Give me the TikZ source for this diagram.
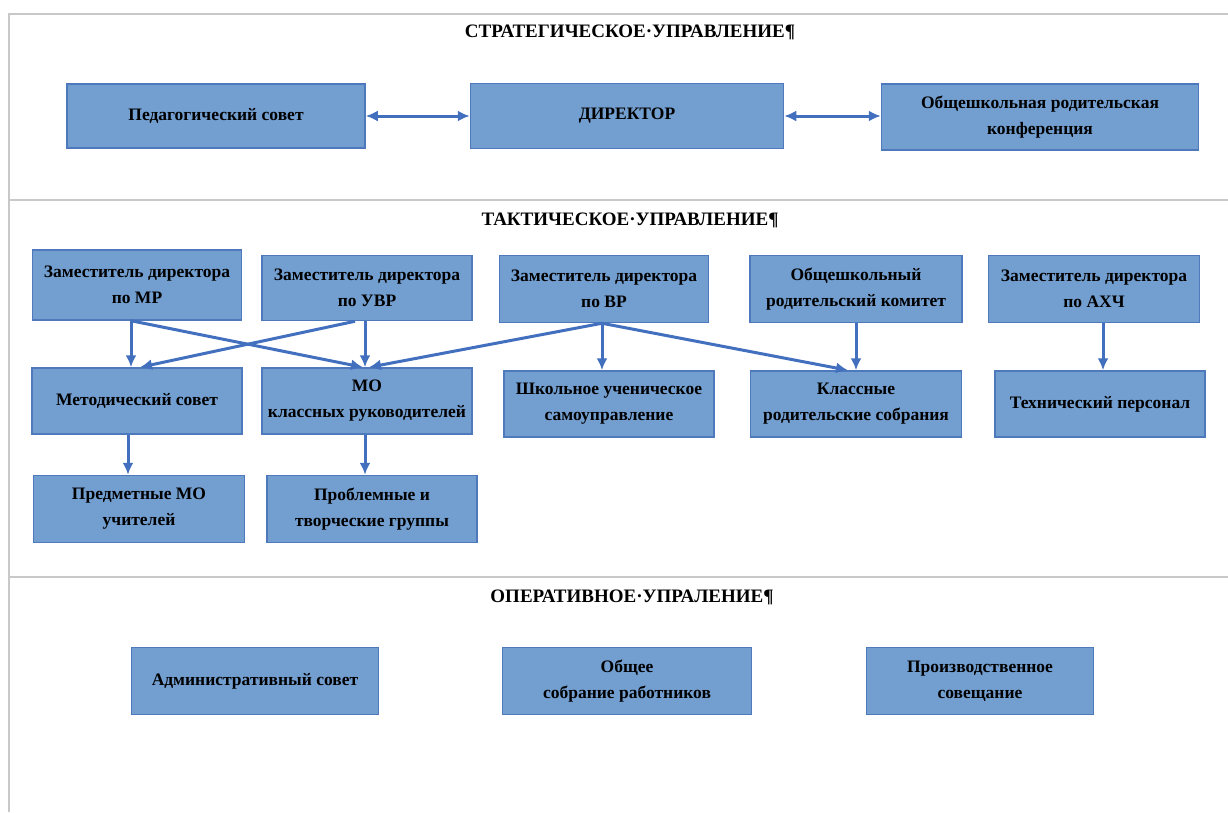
\documentclass[tikz,border=0pt]{standalone}
\usepackage{fontspec}
\setmainfont{Liberation Serif}
\usetikzlibrary{arrows.meta}
\definecolor{boxfill}{RGB}{114,158,208}
\definecolor{boxline}{RGB}{78,121,188}
\definecolor{arrline}{RGB}{66,112,190}
\definecolor{frameline}{RGB}{200,200,200}
\begin{document}
\begin{tikzpicture}[x=1pt,y=-1pt,
    blok/.style={draw=boxline, line width=1.5pt, fill=boxfill, align=center,
        inner sep=2pt, font=\bfseries\fontsize{17.5}{26}\selectfont},
    titul/.style={font=\bfseries\fontsize{19}{22}\selectfont},
    strelka/.style={draw=arrline, line width=3pt, -{Latex[length=12pt,width=11pt]}},
    dvustr/.style={draw=arrline, line width=3pt, {Latex[length=12pt,width=11pt]}-{Latex[length=12pt,width=11pt]}}]
    \useasboundingbox (0,0) rectangle (1228,812);

    % frame
    \draw[frameline, line width=1.5pt] (1228,14) -- (9,14) -- (9,812);
    \draw[frameline, line width=1.5pt] (9,200) -- (1228,200);
    \draw[frameline, line width=1.5pt] (9,577) -- (1228,577);

    % strategic level
    \node[titul] (tstrat) at (630,32) {СТРАТЕГИЧЕСКОЕ·УПРАВЛЕНИЕ¶};
    \node[blok, minimum width=298, minimum height=64] (pedsovet) at (216,116) {Педагогический совет};
    \node[blok, minimum width=313, minimum height=65] (direktor) at (627,116) {ДИРЕКТОР};
    \node[blok, minimum width=317, minimum height=66] (konf) at (1040,117) {Общешкольная родительская\\конференция};
    \draw[dvustr] (pedsovet.east) -- (direktor.west);
    \draw[dvustr] (direktor.east) -- (konf.west |- direktor.east);

    % tactical level
    \node[titul] (ttakt) at (630,220) {ТАКТИЧЕСКОЕ·УПРАВЛЕНИЕ¶};
    \node[blok, minimum width=209, minimum height=70] (zammr) at (137,285) {Заместитель директора\\по МР};
    \node[blok, minimum width=210, minimum height=65] (zamuvr) at (367,288) {Заместитель директора\\по УВР};
    \node[blok, minimum width=209, minimum height=67] (zamvr) at (604,289) {Заместитель директора\\по ВР};
    \node[blok, minimum width=212, minimum height=67] (komitet) at (856,289) {Общешкольный\\родительский комитет};
    \node[blok, minimum width=211, minimum height=67] (zamahch) at (1094,289) {Заместитель директора\\по АХЧ};

    \node[blok, minimum width=210, minimum height=66] (metsovet) at (137,401) {Методический совет};
    \node[blok, minimum width=210, minimum height=66] (moklass) at (367,401) {МО\\классных руководителей};
    \node[blok, minimum width=210, minimum height=66] (samoupr) at (609,404) {Школьное ученическое\\самоуправление};
    \node[blok, minimum width=211, minimum height=66] (sobrkl) at (856,404) {Классные\\родительские собрания};
    \node[blok, minimum width=210, minimum height=66] (tehpers) at (1100,404) {Технический персонал};

    \node[blok, minimum width=211, minimum height=67] (predmmo) at (139,509) {Предметные МО\\учителей};
    \node[blok, minimum width=210, minimum height=67] (gruppy) at (372,509) {Проблемные и\\творческие группы};

    \draw[strelka] ([xshift=-6]zammr.south) -- ([xshift=-6]metsovet.north);
    \draw[strelka] ([xshift=-6]zammr.south) -- ([xshift=-4]moklass.north);
    \draw[strelka] ([xshift=-12]zamuvr.south) -- ([xshift=3]metsovet.north);
    \draw[strelka] ([xshift=-2]zamuvr.south) -- ([xshift=-2]moklass.north);
    \draw[strelka] ([xshift=-2]zamvr.south) -- ([xshift=2]moklass.north);
    \draw[strelka] ([xshift=-2]zamvr.south) -- ([xshift=-7]samoupr.north);
    \draw[strelka] ([xshift=-2]zamvr.south) -- ([xshift=-8]sobrkl.north);
    \draw[strelka] (komitet.south) -- (sobrkl.north -| komitet.south);
    \draw[strelka] ([xshift=9]zamahch.south) -- ([xshift=3]tehpers.north);
    \draw[strelka] ([xshift=-9]metsovet.south) -- ([xshift=-11]predmmo.north);
    \draw[strelka] ([xshift=-2]moklass.south) -- ([xshift=-7]gruppy.north);

    % operational level
    \node[titul] (toper) at (632,597) {ОПЕРАТИВНОЕ·УПРАЛЕНИЕ¶};
    \node[blok, minimum width=247, minimum height=67] (admsovet) at (255,681) {Административный совет};
    \node[blok, minimum width=249, minimum height=67] (obsobr) at (627,681) {Общее\\собрание работников};
    \node[blok, minimum width=227, minimum height=67] (sovesch) at (980,681) {Производственное\\совещание};
\end{tikzpicture}
\end{document}
